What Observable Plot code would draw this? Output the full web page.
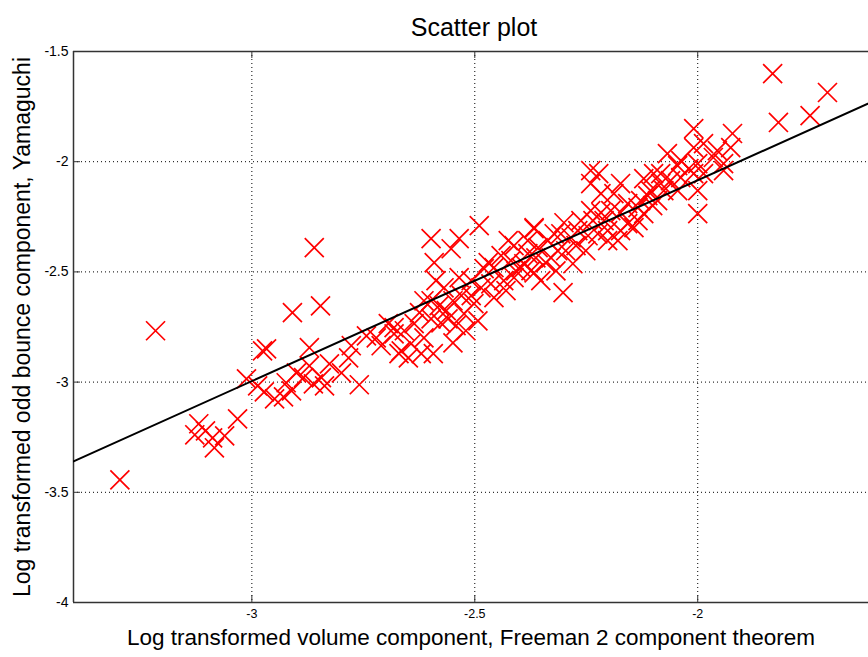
<!DOCTYPE html>
<html>
<head>
<meta charset="utf-8">
<script src="https://cdn.jsdelivr.net/npm/d3@7"></script>
<script src="https://cdn.jsdelivr.net/npm/@observablehq/plot@0.6"></script>
<style>
html, body { margin: 0; padding: 0; background: white; overflow: hidden; }
</style>
</head>
<body>
<div id="chart"></div>
<script>
const titleText = "Scatter plot";
const xLabel = "Log transformed volume component, Freeman 2 component theorem";
const yLabel = "Log transformed odd bounce component, Yamaguchi";

const xTicks = [-3, -2.5, -2];
const yTicks = [-1.5, -2, -2.5, -3, -3.5, -4];
const xGrid = [-3, -2.5, -2];
const yGrid = [-2, -2.5, -3, -3.5];

// Scatter values (volume component, odd bounce component)
const xs = [-3.296,-3.216,-3.119,-3.104,-3.128,-3.088,-3.084,-3.061,-3.032,-3.012,
  -2.976,-2.967,-2.987,-2.972,-2.949,-2.929,-2.911,-2.909,-2.846,-2.860,
  -2.871,-2.884,-2.871,-2.862,-2.844,-2.826,-2.837,-2.783,-2.759,-2.743,
  -2.721,-2.694,-2.681,-2.670,-2.598,-2.535,-2.553,-2.591,-2.490,-2.535,
  -2.569,-2.587,-2.479,-2.470,-2.486,-2.457,-2.549,-2.564,-2.580,-2.598,
  -2.560,-2.524,-2.502,-2.493,-2.614,-2.636,-2.658,-2.681,-2.665,-2.643,
  -2.614,-2.593,-2.549,-2.620,-2.649,-2.425,-2.367,-2.412,-2.396,-2.374,
  -2.412,-2.435,-2.457,-2.363,-2.381,-2.419,-2.520,-2.576,-2.624,-2.508,
  -2.068,-2.045,-2.240,-2.222,-2.240,-2.173,-2.217,-2.188,-2.121,-2.099,
  -2.083,-2.112,-2.134,-2.157,-2.173,-2.195,-2.217,-2.240,-2.235,-2.210,
  -2.202,-2.179,-2.157,-2.134,-2.121,-2.101,-2.143,-2.262,-2.269,-2.300,
  -2.307,-2.284,-2.322,-2.336,-2.367,-2.358,-2.381,-2.390,-2.367,-2.280,
  -2.302,-2.224,-2.202,-2.246,-2.314,-2.329,-1.832,-1.709,-1.819,-1.748,
  -2.009,-1.922,-1.926,-1.987,-2.009,-1.965,-1.942,-2.000,-2.020,-2.009,
  -1.987,-2.038,-2.061,-2.083,-2.076,-2.045,-2.000,-2.000,-2.090,-1.942,
  -1.956,-2.441,-2.408,-2.341,-2.318,-2.296,-2.352,-2.464,-2.430,-2.251,
  -2.273,-2.173,-2.128,-2.106,-2.038,-2.530,-2.542,-2.598,-2.508,-2.710,
  -2.777,-2.799,-2.900,-2.923];
const ys = [-3.444,-2.767,-3.189,-3.221,-3.239,-3.253,-3.298,-3.244,-3.167,-2.985,
  -2.858,-2.849,-3.017,-3.044,-3.076,-3.067,-3.040,-2.685,-2.654,-2.390,
  -2.844,-2.980,-2.926,-3.008,-2.980,-2.917,-3.017,-2.890,-3.012,-2.790,
  -2.799,-2.735,-2.753,-2.871,-2.349,-2.349,-2.395,-2.458,-2.290,-2.526,
  -2.572,-2.540,-2.485,-2.458,-2.572,-2.617,-2.631,-2.676,-2.653,-2.631,
  -2.713,-2.690,-2.644,-2.722,-2.631,-2.735,-2.767,-2.781,-2.858,-2.826,
  -2.799,-2.871,-2.822,-2.871,-2.890,-2.358,-2.304,-2.381,-2.481,-2.494,
  -2.526,-2.540,-2.481,-2.436,-2.358,-2.449,-2.767,-2.731,-2.685,-2.608,
  -1.963,-2.018,-2.040,-2.054,-2.099,-2.099,-2.145,-2.145,-2.077,-2.054,
  -2.099,-2.154,-2.208,-2.190,-2.231,-2.222,-2.231,-2.222,-2.267,-2.267,
  -2.313,-2.358,-2.281,-2.267,-2.236,-2.199,-2.299,-2.267,-2.313,-2.277,
  -2.327,-2.345,-2.327,-2.358,-2.299,-2.390,-2.417,-2.463,-2.504,-2.463,
  -2.594,-2.327,-2.358,-2.336,-2.404,-2.436,-1.600,-1.686,-1.822,-1.791,
  -1.850,-1.872,-1.936,-1.918,-1.936,-1.981,-2.009,-2.009,-2.031,-2.054,
  -2.054,-2.072,-2.086,-2.054,-2.131,-2.131,-2.131,-2.236,-2.177,-2.040,
  -1.950,-2.426,-2.495,-2.458,-2.495,-2.404,-2.540,-2.554,-2.585,-2.404,
  -2.381,-2.313,-2.177,-2.131,-1.995,-2.608,-2.744,-2.713,-2.540,-2.835,
  -2.835,-2.958,-2.958,-3.003];

// Fitted line endpoints
const lineX = [-3.4, -1.6];
const lineY = [-3.36, -1.72];

const points = xs.map((x, i) => ({x, y: ys[i]}));
const fit = lineX.map((x, i) => ({x, y: lineY[i]}));

const W = 868, H = 657, mL = 73, mR = 0, mT = 51, mB = 55;
const frameH = H - mT - mB, frameW = W - mL - mR;
const axisColor = "#333";

const chart = Plot.plot({
  width: W, height: H,
  marginLeft: mL, marginRight: mR, marginTop: mT, marginBottom: mB,
  style: {fontFamily: "'Liberation Sans', Arial, Helvetica, sans-serif", fontSize: "12px", color: "black", background: "white"},
  x: {domain: [-3.4, -1.617], axis: null},
  y: {domain: [-4, -1.5], axis: null},
  marks: [
    Plot.ruleX(xGrid, {x: d => d, stroke: "black", strokeDasharray: "1,3", strokeWidth: 1}),
    Plot.ruleY(yGrid, {y: d => d, stroke: "black", strokeDasharray: "1,3", strokeWidth: 1}),
    Plot.ruleY([-1.5, -4], {y: d => d, stroke: axisColor, strokeWidth: 1.5}),
    Plot.ruleX([-3.4], {x: d => d, stroke: axisColor, strokeWidth: 1.5}),
    Plot.tickX(xTicks, {x: d => d, insetTop: frameH - 7, stroke: axisColor}),
    Plot.tickX(xTicks, {x: d => d, insetBottom: frameH - 7, stroke: axisColor}),
    Plot.tickY(yTicks, {y: d => d, insetRight: frameW - 7, stroke: axisColor}),
    Plot.axisX(xTicks, {tickSize: 0, tickPadding: 7, tickFormat: d => String(d), label: null, fontSize: 12.5}),
    Plot.axisY(yTicks, {tickSize: 0, tickPadding: 5, tickFormat: d => String(d), label: null, fontSize: 14}),
    Plot.dot(points, {x: "x", y: "y", symbol: "times", r: 8.7, stroke: "#ff0000", strokeWidth: 1.7}),
    Plot.line(fit, {x: "x", y: "y", stroke: "black", strokeWidth: 2, clip: true}),
    Plot.text([titleText], {text: d => d, frameAnchor: "top", dy: -33, dx: 3, fontSize: 25, fill: "black"}),
    Plot.text([xLabel], {text: d => d, frameAnchor: "bottom", dy: 42, fontSize: 22.5, fill: "black"}),
    Plot.text([yLabel], {text: d => d, frameAnchor: "left", textAnchor: "middle", dx: -51, rotate: -90, fontSize: 23, fill: "black"})
  ]
});
document.getElementById("chart").appendChild(chart);
</script>
</body>
</html>
